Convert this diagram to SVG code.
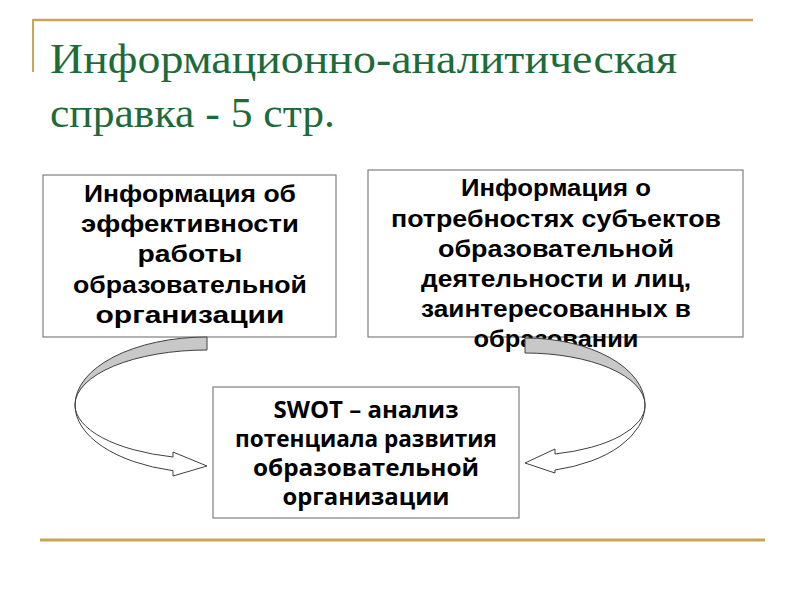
<svg xmlns="http://www.w3.org/2000/svg" width="800" height="600" viewBox="0 0 800 600">
<style>
.title{font-family:"Liberation Serif","DejaVu Serif",serif;font-size:43px;fill:#1E6B3A}
.box{fill:#FFFFFF;stroke:#7F7F7F;stroke-width:1.2}
.t{font-family:"Liberation Sans",Arial,sans-serif;font-weight:bold;font-size:23.5px;fill:#000;text-anchor:middle}
.c{font-family:"Open Sans","Noto Sans",sans-serif;font-weight:bold;font-size:23px;fill:#000;text-anchor:middle}
.gold{stroke:#C9A557;fill:none}
.back{fill:#C8C8C8;stroke:#404040;stroke-width:1}
.front{fill:#FFFFFF;stroke:#404040;stroke-width:1}
</style>
<rect width="800" height="600" fill="#FFFFFF"/>
<g id="frame">
<line class="gold" x1="33" y1="20" x2="753" y2="20" stroke-width="2.5"/>
<line class="gold" x1="33" y1="19" x2="33" y2="72" stroke-width="2"/>
<line class="gold" x1="40" y1="540" x2="765" y2="540" stroke-width="3"/>
</g>
<g id="title">
<text class="title" x="50" y="73" textLength="627" lengthAdjust="spacingAndGlyphs">Информационно-аналитическая</text>
<text class="title" x="50" y="127" textLength="285" lengthAdjust="spacingAndGlyphs">справка - 5 стр.</text>
</g>
<g id="node1">
<rect class="box" x="43" y="175" width="293" height="162"/>
<text class="t" x="190" y="202" textLength="212" lengthAdjust="spacingAndGlyphs">Информация об</text>
<text class="t" x="190" y="232" textLength="218" lengthAdjust="spacingAndGlyphs">эффективности</text>
<text class="t" x="190" y="262" textLength="105" lengthAdjust="spacingAndGlyphs">работы</text>
<text class="t" x="190" y="293" textLength="234" lengthAdjust="spacingAndGlyphs">образовательной</text>
<text class="t" x="190" y="323" textLength="189" lengthAdjust="spacingAndGlyphs">организации</text>
</g>
<g id="node2">
<rect class="box" x="368" y="170" width="375" height="167"/>
<text class="t" x="556" y="196" textLength="190" lengthAdjust="spacingAndGlyphs">Информация о</text>
<text class="t" x="556" y="227" textLength="330" lengthAdjust="spacingAndGlyphs">потребностях субъектов</text>
<text class="t" x="556" y="257" textLength="236" lengthAdjust="spacingAndGlyphs">образовательной</text>
<text class="t" x="556" y="287" textLength="270" lengthAdjust="spacingAndGlyphs">деятельности и лиц,</text>
<text class="t" x="556" y="317" textLength="270" lengthAdjust="spacingAndGlyphs">заинтересованных в</text>
<text class="t" x="556" y="347" textLength="165" lengthAdjust="spacingAndGlyphs">образовании</text>
</g>
<g id="node3">
<rect class="box" x="213" y="387" width="306" height="131"/>
<text class="c" x="366" y="418" textLength="185" lengthAdjust="spacingAndGlyphs">SWOT – анализ</text>
<text class="c" x="366" y="447" textLength="262" lengthAdjust="spacingAndGlyphs">потенциала развития</text>
<text class="c" x="366" y="476" textLength="226" lengthAdjust="spacingAndGlyphs">образовательной</text>
<text class="c" x="366" y="505" textLength="167" lengthAdjust="spacingAndGlyphs">организации</text>
</g>
<g id="connectors">
<g id="arrow-left">
<path class="back" d="M207,337 A132,68 0 0 0 75,405 A132,55 0 0 1 207,350 Z"/>
<path class="front" d="M75,405 A132,68 0 0 0 173,470.7 L173,476 L207,466 L173,452 L173,457 A132,54 0 0 1 75,405 Z"/>
</g>
<g id="arrow-right">
<path class="back" d="M525,338 A120,67 0 0 1 645,405 A120,52 0 0 0 525,353 Z"/>
<path class="front" d="M645,405 A120,67 0 0 1 555,470 L555,473 L525,463 L555,449 L555,454 A120,50 0 0 0 645,405 Z"/>
</g>
</g>
</svg>
